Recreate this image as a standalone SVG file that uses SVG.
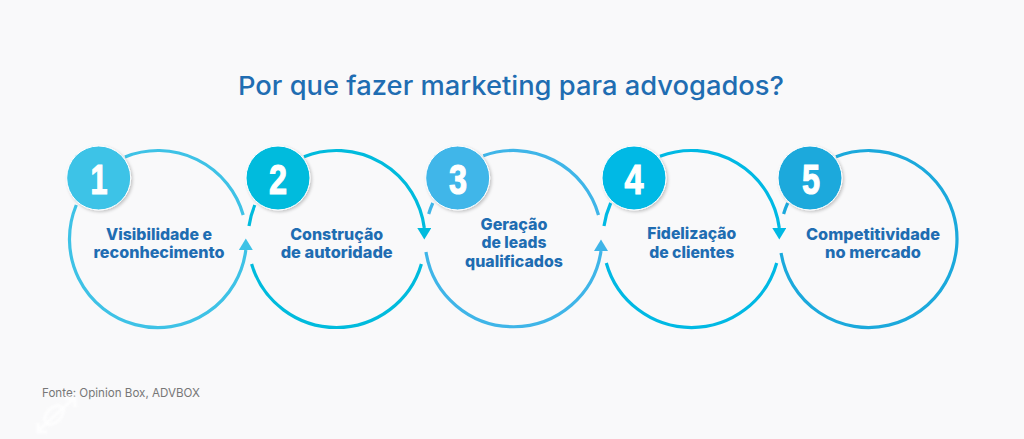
<svg xmlns="http://www.w3.org/2000/svg" width="1024" height="439" viewBox="0 0 1024 439">
<defs>
<style>
.title{font:500 26px Inter,"Open Sans","Liberation Sans",sans-serif;fill:#1f6db2;text-anchor:middle}
.label{font:800 16px Inter,"Open Sans","Liberation Sans",sans-serif;fill:#1f6db2;text-anchor:middle}
.num{font:700 42px "Liberation Sans",Arial,sans-serif;fill:#fff;stroke:#fff;stroke-width:1.2;text-anchor:middle}
.src{font:400 12px Inter,"Open Sans","Liberation Sans",sans-serif;fill:#777}
.arc{fill:none;stroke-width:3.2}
.badge{stroke:#fff;stroke-width:1;filter:url(#sh)}
.wm{fill:none;stroke:#fff;stroke-width:3;opacity:.85;filter:url(#soft)}
.c1{stroke:#3ec2e6}.c2{stroke:#00bbdd}.c3{stroke:#3fb5e8}.c4{stroke:#00b9e4}.c5{stroke:#1ba9dc}
</style>
<filter id="sh" x="-20%" y="-20%" width="150%" height="150%"><feDropShadow dx="1.5" dy="1.5" stdDeviation="1.8" flood-color="#000" flood-opacity=".22"/></filter>
<filter id="soft" x="-30%" y="-30%" width="160%" height="160%"><feGaussianBlur stdDeviation=".8"/></filter>
<marker id="a1" markerUnits="userSpaceOnUse" markerWidth="12" markerHeight="14" refX="0" refY="7" orient="-90"><path d="M0 0L11.500 7L0 14z" fill="#3ec2e6"/></marker>
<marker id="a2" markerUnits="userSpaceOnUse" markerWidth="12" markerHeight="14" refX="0" refY="7" orient="90"><path d="M0 0L11.500 7L0 14z" fill="#00bbdd"/></marker>
<marker id="a3" markerUnits="userSpaceOnUse" markerWidth="12" markerHeight="14" refX="0" refY="7" orient="-90"><path d="M0 0L11.500 7L0 14z" fill="#3fb5e8"/></marker>
<marker id="a4" markerUnits="userSpaceOnUse" markerWidth="12" markerHeight="14" refX="0" refY="7" orient="90"><path d="M0 0L11.500 7L0 14z" fill="#00b9e4"/></marker>
</defs>
<rect width="1024" height="439" fill="#f9f9fa"/>
<text class="title" x="511" y="95" textLength="546" lengthAdjust="spacingAndGlyphs">Por que fazer marketing para advogados?</text>
<g id="connectors">
<path class="arc c1" d="M125 156.900A88.500 88.500 0 0 1 243.200 215"/>
<path class="arc c1" d="M76.300 205A88.500 88.500 0 1 0 245.800 250" marker-end="url(#a1)"/>
<path class="arc c2" d="M304 156.700A88.500 88.500 0 0 1 424.300 228" marker-end="url(#a2)"/>
<path class="arc c2" d="M254.800 205A88.500 88.500 0 0 0 249 226"/>
<path class="arc c2" d="M251.600 264A88.500 88.500 0 0 0 421.400 264"/>
<path class="arc c3" d="M432.800 203A88.500 88.500 0 0 0 428.700 214"/>
<path class="arc c3" d="M483.300 155.700A88.500 88.500 0 0 1 598.500 215"/>
<path class="arc c3" d="M426 252A88.500 88.500 0 0 0 601 251" marker-end="url(#a3)"/>
<path class="arc c4" d="M660 156.300A88.500 88.500 0 0 1 779.300 228" marker-end="url(#a4)"/>
<path class="arc c4" d="M610.700 203A88.500 88.500 0 0 0 604 226"/>
<path class="arc c4" d="M606.300 263A88.500 88.500 0 0 0 776.700 263"/>
<path class="arc c5" d="M787.700 203A88.500 88.500 0 0 0 783.600 214"/>
<path class="arc c5" d="M836 156.700A88.500 88.500 0 1 1 781.100 253"/>
</g>
<g id="node-1"><circle class="badge" cx="98.700" cy="178" r="32" fill="#3ec3e7"/><text class="num" x="99" y="193.500" textLength="17" lengthAdjust="spacingAndGlyphs">1</text><text class="label" x="159" y="240" textLength="106" lengthAdjust="spacingAndGlyphs">Visibilidade e</text><text class="label" x="159" y="258.300" textLength="131" lengthAdjust="spacingAndGlyphs">reconhecimento</text></g>
<g id="node-2"><circle class="badge" cx="278" cy="178" r="32" fill="#00bbdd"/><text class="num" x="278" y="193.500" textLength="18" lengthAdjust="spacingAndGlyphs">2</text><text class="label" x="336.700" y="240" textLength="93" lengthAdjust="spacingAndGlyphs">Construção</text><text class="label" x="336.700" y="258.300" textLength="112" lengthAdjust="spacingAndGlyphs">de autoridade</text></g>
<g id="node-3"><circle class="badge" cx="457.700" cy="178" r="32" fill="#40b6e9"/><text class="num" x="458" y="193.500" textLength="18" lengthAdjust="spacingAndGlyphs">3</text><text class="label" x="514" y="230" textLength="67" lengthAdjust="spacingAndGlyphs">Geração</text><text class="label" x="514" y="248.300" textLength="65" lengthAdjust="spacingAndGlyphs">de leads</text><text class="label" x="514" y="266.700" textLength="98" lengthAdjust="spacingAndGlyphs">qualificados</text></g>
<g id="node-4"><circle class="badge" cx="634" cy="178" r="32" fill="#00b9e5"/><text class="num" x="634" y="193.500" textLength="19" lengthAdjust="spacingAndGlyphs">4</text><text class="label" x="691.700" y="239.300" textLength="89" lengthAdjust="spacingAndGlyphs">Fidelização</text><text class="label" x="691.700" y="257.700" textLength="85" lengthAdjust="spacingAndGlyphs">de clientes</text></g>
<g id="node-5"><circle class="badge" cx="810" cy="178" r="32" fill="#1ba9dc"/><text class="num" x="811" y="193.500" textLength="18" lengthAdjust="spacingAndGlyphs">5</text><text class="label" x="873" y="240" textLength="134" lengthAdjust="spacingAndGlyphs">Competitividade</text><text class="label" x="873" y="258.300" textLength="96" lengthAdjust="spacingAndGlyphs">no mercado</text></g>
<text class="src" x="42" y="397" textLength="158" lengthAdjust="spacingAndGlyphs">Fonte: Opinion Box, ADVBOX</text>
<g id="watermark"><path class="wm" d="M38 431L73 399M38 423V432H47M65 398H75V407"/><ellipse class="wm" cx="54" cy="415" rx="11" ry="7" transform="rotate(-45 54 415)"/></g>
</svg>
